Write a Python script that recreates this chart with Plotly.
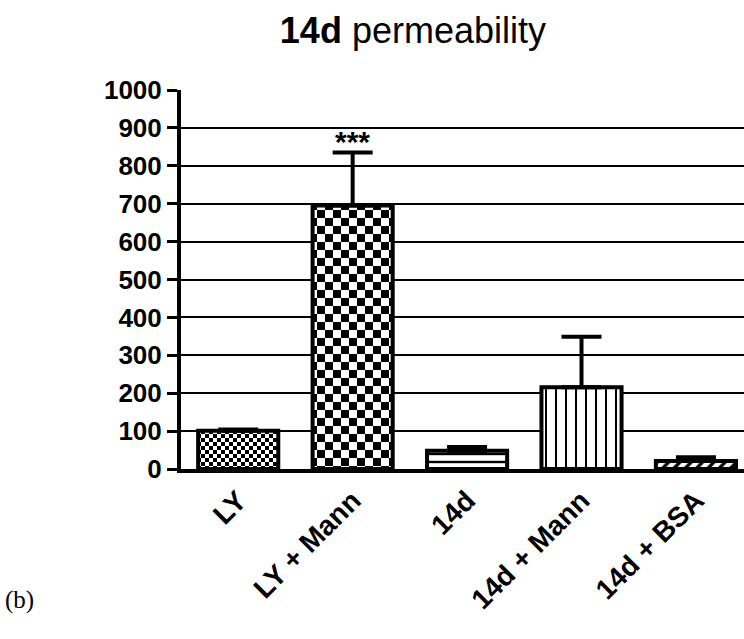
import plotly.graph_objects as go

categories = ["LY", "LY + Mann", "14d", "14d + Mann", "14d + BSA"]
values = [101, 695, 48, 216, 21]
errors_up = [3, 140, 10, 133, 10]
y_ticks = [0, 100, 200, 300, 400, 500, 600, 700, 800, 900, 1000]

patterns = [
    dict(path="M0,0H4V4H0ZM4,4H8V8H4Z", size=8, fgcolor="black", bgcolor="white", fillmode="replace"),
    dict(path="M0,0H8V8H0ZM8,8H16V16H8Z", size=16, fgcolor="black", bgcolor="white", fillmode="replace"),
    dict(shape="-", size=8, solidity=0.3, fgcolor="black", bgcolor="white", fillmode="replace"),
    dict(shape="|", size=10, solidity=0.2, fgcolor="black", bgcolor="white", fillmode="replace"),
    dict(shape="/", size=8, solidity=0.4, fgcolor="black", bgcolor="white", fillmode="replace"),
]

fig = go.Figure()
for i, cat in enumerate(categories):
    fig.add_trace(go.Bar(
        x=[cat], y=[values[i]],
        width=0.7,
        marker=dict(color="white", line=dict(color="black", width=4), pattern=patterns[i]),
        error_y=dict(type="data", symmetric=False, array=[errors_up[i]], arrayminus=[0],
                     color="black", thickness=4, width=20),
        showlegend=False,
    ))

fig.add_annotation(text="<b>***</b>", x="LY + Mann", y=errors_up[1] + values[1], yshift=11,
                   yanchor="middle", showarrow=False,
                   font=dict(family="Liberation Sans", size=30, color="black"))

fig.add_annotation(text="(b)", xref="paper", yref="paper", x=0, xshift=-178, y=-0.346,
                   xanchor="left", yanchor="middle", showarrow=False,
                   font=dict(family="Liberation Serif", size=25, color="black"))

fig.update_layout(
    width=744, height=639,
    margin=dict(l=181, r=0, t=90, b=170),
    paper_bgcolor="white", plot_bgcolor="white",
    title=dict(text="<b>14d</b> permeability", x=0.555, xanchor="center", y=0.953, yanchor="middle",
               font=dict(family="Liberation Sans", size=36, color="black")),
    font=dict(family="Liberation Sans", color="black"),
    bargap=0.3,
)
fig.update_xaxes(
    range=[-0.5, 4.42], tickangle=-45,
    showline=True, linecolor="black", linewidth=4,
    ticks="", showgrid=False,
    tickfont=dict(family="Liberation Sans", size=28, color="black", weight="bold"),
)
fig.update_yaxes(
    range=[0, 1000], tickvals=y_ticks, ticktext=[str(v) for v in y_ticks],
    showline=True, linecolor="black", linewidth=4,
    ticks="outside", ticklen=10, tickwidth=3, tickcolor="black",
    showgrid=True, gridcolor="black", gridwidth=2, zeroline=False,
    tickfont=dict(family="Liberation Sans", size=26, color="black", weight="bold"),
)

fig.write_html("out.html")
